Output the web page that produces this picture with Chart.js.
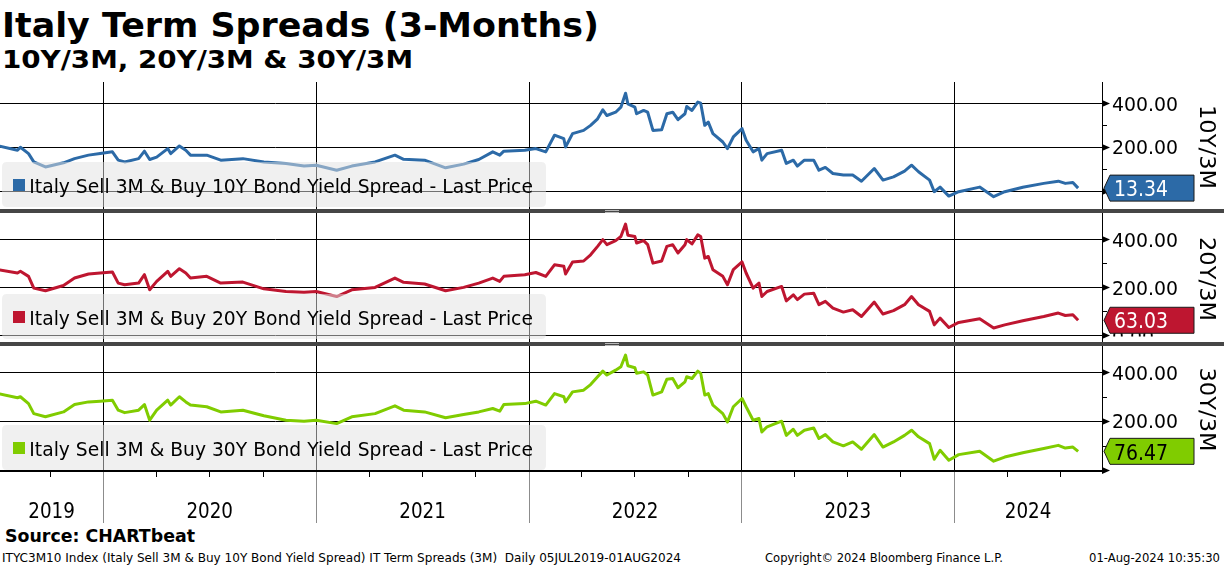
<!DOCTYPE html>
<html><head><meta charset="utf-8">
<script src="https://cdn.jsdelivr.net/npm/chart.js@4.4.1/dist/chart.umd.min.js"></script>
<style>
html,body{margin:0;padding:0;background:#fff;width:1224px;height:566px;overflow:hidden;position:relative;font-family:"DejaVu Sans",sans-serif;}
.t{position:absolute;white-space:pre;transform-origin:0 0;color:#000;line-height:normal;}
canvas{position:absolute;left:0;}
.sep{position:absolute;left:0;width:1224px;height:4px;background:#464646;}
.grip{position:absolute;left:605px;width:14px;height:1px;background:#b8b8b8;}
</style></head><body>
<div class="t" data-w="597" style="left:2px;top:5px;font-size:34px;font-weight:bold;">Italy Term Spreads (3-Months)</div>
<div class="t" data-w="411" style="left:2px;top:45px;font-size:25px;font-weight:bold;">10Y/3M, 20Y/3M &amp; 30Y/3M</div>
<canvas id="c1" width="1224" height="127" style="top:82px;width:1224px;height:127px;"></canvas>
<div class="sep" style="top:209px;"></div>
<div class="grip" style="top:210px;"></div><div class="grip" style="top:212px;"></div>
<canvas id="c2" width="1224" height="129" style="top:213px;width:1224px;height:129px;"></canvas>
<div class="sep" style="top:342px;"></div>
<div class="grip" style="top:343px;"></div><div class="grip" style="top:345px;"></div>
<canvas id="c3" width="1224" height="180" style="top:346px;width:1224px;height:180px;"></canvas>
<div class="t" data-w="190" style="left:5px;top:526px;font-size:17.5px;font-weight:bold;">Source: CHARTbeat</div>
<div class="t" data-w="679" style="left:2px;top:551px;font-size:11.5px;">ITYC3M10 Index (Italy Sell 3M &amp; Buy 10Y Bond Yield Spread) IT Term Spreads (3M)  Daily 05JUL2019-01AUG2024</div>
<div class="t" data-w="238" style="left:765px;top:551px;font-size:11.5px;">Copyright© 2024 Bloomberg Finance L.P.</div>
<div class="t" data-w="131" style="left:1089px;top:551px;font-size:11.5px;">01-Aug-2024 10:35:30</div>
<script>
// ---------- DATA ----------
const dates = [
'2019-07-05','2019-08-07','2019-08-12','2019-08-26','2019-09-04','2019-09-24','2019-10-25','2019-11-13','2019-12-07','2019-12-27',
'2020-01-17','2020-01-27','2020-02-07','2020-03-02','2020-03-12','2020-03-21','2020-04-02','2020-04-21','2020-04-26','2020-05-11',
'2020-05-22','2020-05-30','2020-06-27','2020-07-21','2020-08-28','2020-10-03','2020-11-10','2020-12-11','2021-01-01','2021-02-05',
'2021-03-03','2021-04-12','2021-05-16','2021-05-31','2021-07-06','2021-08-11','2021-09-11','2021-10-07','2021-10-31','2021-11-12',
'2021-11-19','2021-12-25','2022-01-13','2022-01-30','2022-02-14','2022-03-02','2022-03-05','2022-03-17','2022-04-05','2022-04-17',
'2022-04-29','2022-05-08','2022-05-15','2022-05-30','2022-06-08','2022-06-16','2022-06-20','2022-07-02','2022-07-05','2022-07-17',
'2022-07-24','2022-08-02','2022-08-17','2022-08-26','2022-09-05','2022-09-14','2022-09-26','2022-09-29','2022-10-08','2022-10-18',
'2022-10-23','2022-10-30','2022-11-05','2022-11-13','2022-11-30','2022-12-08','2022-12-18','2023-01-02','2023-01-09','2023-01-21',
'2023-01-31','2023-02-05','2023-02-14','2023-03-11','2023-03-19','2023-03-31','2023-04-07','2023-04-19','2023-05-05','2023-05-14',
'2023-05-25','2023-06-07','2023-06-25','2023-07-11','2023-07-26','2023-08-17','2023-09-01','2023-09-19','2023-10-08','2023-10-20',
'2023-11-01','2023-11-20','2023-11-28','2023-12-08','2023-12-23','2024-01-09','2024-02-14','2024-03-09','2024-03-28','2024-04-28',
'2024-06-03','2024-06-28','2024-07-10','2024-07-23','2024-08-01'];

const spread10Y = [
206,186,200,171,133,110,129,148,164,171,
179,141,133,148,182,144,155,194,171,206,
186,164,164,141,148,133,126,114,118,95,
114,133,164,145,141,106,123,144,179,164,
182,186,194,179,255,239,201,262,277,300,
330,371,345,360,383,447,398,383,353,368,
360,277,280,353,360,326,353,386,368,406,
401,300,315,262,224,194,247,285,232,179,
194,141,171,186,126,141,114,141,141,95,
108,80,73,73,45,103,50,65,91,118,
88,50,-3,18,-23,-3,18,-26,-3,17,
35,45,35,39,13.34];

const spread20Y = [
274,260,267,246,197,186,208,239,256,260,
264,218,211,218,253,190,225,267,246,278,
260,239,246,218,222,194,183,180,183,162,
190,200,239,221,214,186,200,218,239,225,
246,253,262,246,294,288,256,306,310,336,
371,399,378,395,412,464,417,412,385,395,
378,301,310,371,378,343,378,399,381,419,
412,322,329,274,246,211,274,306,260,197,
218,162,183,204,144,169,149,172,176,128,
142,114,97,107,79,139,89,103,128,162,
128,100,44,72,33,54,69,31,44,61,
79,93,83,86,63.03];

const spread30Y = [
313,296,300,272,231,218,238,268,279,282,
286,245,235,245,268,204,245,286,266,300,
279,266,259,238,245,222,204,200,204,190,
218,231,263,245,238,214,227,238,252,241,
268,272,282,266,313,300,279,320,327,350,
382,405,389,409,423,471,427,419,396,402,
389,307,320,372,375,337,361,382,375,405,
396,307,313,266,231,197,259,293,259,204,
211,156,177,200,142,167,142,163,172,129,
145,115,99,115,85,145,94,115,142,163,
136,108,44,81,40,63,77,36,53,71,
88,101,90,94,76.47];

const seriesNames = [
'Italy Sell 3M & Buy 10Y Bond Yield Spread - Last Price',
'Italy Sell 3M & Buy 20Y Bond Yield Spread - Last Price',
'Italy Sell 3M & Buy 30Y Bond Yield Spread - Last Price'];
const axisTitles = ['10Y/3M','20Y/3M','30Y/3M'];
const yearStarts = ['2020-01-01','2021-01-01','2022-01-01','2023-01-01','2024-01-01'];
const yearLabels = ['2019','2020','2021','2022','2023','2024'];
const majorTicks = [0,200,400];
const minorTicks = [100,300];

// ---------- CONFIG ----------
const X_MIN = Date.parse('2019-07-08');
const X_MAX = Date.parse('2024-09-11');
const FONT = "'DejaVu Sans'";

const panels = [
 {id:'c1', top:82,  padBottom:0,  yMin:-82,   yMax:498, values:spread10Y, color:'#2c6aa7', tagText:'#fff', legendTop:162,  zeroLabel:true,  bottom:false},
 {id:'c2', top:213, padBottom:0,  yMin:-27.5, yMax:510, values:spread20Y, color:'#be1630', tagText:'#fff', legendTop:294,  zeroLabel:true,  bottom:false},
 {id:'c3', top:346, padBottom:56, yMin:0,     yMax:508, values:spread30Y, color:'#80cc00', tagText:'#000', legendTop:425,  zeroLabel:false, bottom:true}
];

// quarter tick dates
const quarterTicks = [];
for (let yr = 2019; yr <= 2024; yr++) for (const m of [0,3,6,9]) {
  const t = Date.UTC(yr, m, 1);
  if (t > X_MIN && t < X_MAX) quarterTicks.push(t);
}

// text scale helpers (approximate a narrower Tahoma-like face)
const mctx = document.createElement('canvas').getContext('2d');
function measure(text, font){ mctx.font = font; return mctx.measureText(text).width; }
const tickFont = '19.5px ' + FONT, tagFont = '21px ' + FONT, yearFont = '21px ' + FONT,
      legendFont = '19px ' + FONT, titleFont = '21px ' + FONT;
const tickSx = 66 / measure('400.00', tickFont);
const tagSx = 54 / measure('63.03', tagFont);
const yearSx = 46.6 / measure('2020', yearFont);
const legendSx = 503.6 / measure(seriesNames[0], legendFont);
const titleSx = 84 / measure('10Y/3M', titleFont);

function drawScaled(ctx, text, x, y, font, sx, color, align){
  ctx.save();
  ctx.translate(x, y); ctx.scale(sx, 1);
  ctx.font = font; ctx.fillStyle = color; ctx.textAlign = align || 'left'; ctx.textBaseline = 'alphabetic';
  ctx.fillText(text, 0, 0);
  ctx.restore();
}

function roundRect(ctx, x, y, w, h, r){
  ctx.beginPath();
  ctx.moveTo(x+r, y); ctx.lineTo(x+w-r, y); ctx.quadraticCurveTo(x+w, y, x+w, y+r);
  ctx.lineTo(x+w, y+h-r); ctx.quadraticCurveTo(x+w, y+h, x+w-r, y+h);
  ctx.lineTo(x+r, y+h); ctx.quadraticCurveTo(x, y+h, x, y+h-r);
  ctx.lineTo(x, y+r); ctx.quadraticCurveTo(x, y, x+r, y);
  ctx.closePath();
}

function makePlugin(p, idx){
  return {
    id: 'panel' + idx,
    beforeDatasetsDraw(chart){
      const {ctx, chartArea:a, scales:{x, y}} = chart;
      ctx.save();
      ctx.strokeStyle = '#000'; ctx.lineWidth = 1;
      ctx.beginPath();
      majorTicks.forEach(v => {
        const py = Math.round(y.getPixelForValue(v)) + 0.5;
        if (py >= a.top && py <= a.bottom + 1) { ctx.moveTo(a.left, py); ctx.lineTo(a.right, py); }
      });
      yearStarts.forEach(d => {
        const px = Math.round(x.getPixelForValue(Date.parse(d))) + 0.5;
        ctx.moveTo(px, a.top); ctx.lineTo(px, a.bottom);
      });
      ctx.stroke();
      ctx.restore();
    },
    afterDatasetsDraw(chart){
      const {ctx, chartArea:a, scales:{x, y}} = chart;
      const W = chart.width;
      ctx.save();
      // bottom axis (before legend overlay)
      if (p.bottom) {
        ctx.fillStyle = '#000';
        ctx.fillRect(0, a.bottom, a.right + 1, 2);
        ctx.strokeStyle = '#000'; ctx.lineWidth = 1;
        ctx.beginPath();
        quarterTicks.forEach(t => {
          const px = Math.round(x.getPixelForValue(t)) + 0.5;
          ctx.moveTo(px, a.bottom); ctx.lineTo(px, a.bottom + 7);
        });
        ctx.stroke();
        ctx.strokeStyle = '#8c8c8c';
        ctx.beginPath();
        yearStarts.forEach(d => {
          const px = Math.round(x.getPixelForValue(Date.parse(d))) + 0.5;
          ctx.moveTo(px, a.bottom + 2); ctx.lineTo(px, a.bottom + 53);
        });
        ctx.stroke();
        const bounds = [X_MIN].concat(yearStarts.map(d => Date.parse(d))).concat([X_MAX]);
        yearLabels.forEach((lab, i) => {
          const cx = (x.getPixelForValue(bounds[i]) + x.getPixelForValue(bounds[i+1])) / 2;
          drawScaled(ctx, lab, cx, a.bottom + 48, yearFont, yearSx, '#000', 'center');
        });
      }
      // right axis line
      ctx.strokeStyle = '#000'; ctx.lineWidth = 1;
      ctx.beginPath();
      ctx.moveTo(a.right + 0.5, a.top); ctx.lineTo(a.right + 0.5, a.bottom + (p.bottom ? 2 : 0));
      minorTicks.forEach(v => {
        const py = Math.round(y.getPixelForValue(v)) + 0.5;
        ctx.moveTo(a.right, py); ctx.lineTo(a.right + 5, py);
      });
      ctx.stroke();
      ctx.fillStyle = '#000';
      majorTicks.forEach(v => {
        const py = Math.round(y.getPixelForValue(v)) + 0.5;
        ctx.beginPath();
        ctx.moveTo(a.right, py - 3.5); ctx.lineTo(a.right + 8, py); ctx.lineTo(a.right, py + 3.5);
        ctx.closePath(); ctx.fill();
      });
      // legend overlay box
      const lt = p.legendTop - p.top;
      roundRect(ctx, 2, lt, 544, 45, 5);
      ctx.fillStyle = 'rgba(226,226,226,0.5)';
      ctx.fill();
      ctx.fillStyle = p.color;
      ctx.fillRect(13, lt + 17, 12, 12);
      drawScaled(ctx, seriesNames[idx], 29.3, lt + 30.5, legendFont, legendSx, '#000', 'left');
      // y tick labels (clipped just below the zero line)
      const clipBottom = Math.min(a.bottom, y.getPixelForValue(0) + 1);
      ctx.save();
      ctx.beginPath(); ctx.rect(a.right + 1, a.top, W - a.right, clipBottom - a.top); ctx.clip();
      majorTicks.forEach(v => {
        if (v === 0 && !p.zeroLabel) return;
        const py = y.getPixelForValue(v);
        drawScaled(ctx, v.toFixed(2), a.right + 10, py + 7.2, tickFont, tickSx, '#000', 'left');
      });
      ctx.restore();
      // last value tag
      const last = p.values[p.values.length - 1];
      const cy = y.getPixelForValue(last);
      const tip = a.right + 2, left = a.right + 8, right = a.right + 92, h = 26;
      ctx.beginPath();
      ctx.moveTo(tip, cy); ctx.lineTo(left, cy - h/2); ctx.lineTo(right, cy - h/2);
      ctx.lineTo(right, cy + h/2); ctx.lineTo(left, cy + h/2); ctx.closePath();
      ctx.fillStyle = p.color; ctx.fill();
      ctx.strokeStyle = '#1a1a1a'; ctx.lineWidth = 1; ctx.stroke();
      drawScaled(ctx, last.toFixed(2), left + 4, cy + 8.2, tagFont, tagSx, p.tagText, 'left');
      // rotated axis title
      ctx.save();
      ctx.translate(1206, (a.top + a.bottom) / 2 + 1.5);
      ctx.rotate(Math.PI / 2);
      ctx.scale(titleSx, 1);
      ctx.font = titleFont; ctx.fillStyle = '#000'; ctx.textAlign = 'center'; ctx.textBaseline = 'middle';
      ctx.fillText(axisTitles[idx], 0, 1);
      ctx.restore();
      ctx.restore();
    }
  };
}

panels.forEach((p, idx) => {
  new Chart(document.getElementById(p.id), {
    type: 'line',
    data: { datasets: [{
      data: dates.map((d, i) => ({ x: Date.parse(d), y: p.values[i] })),
      borderColor: p.color, borderWidth: 3, pointRadius: 0, tension: 0, fill: false,
      borderJoinStyle: 'round'
    }]},
    options: {
      responsive: false, animation: false, events: [],
      layout: { padding: { left: 0, right: 122, top: 0, bottom: p.padBottom } },
      plugins: { legend: { display: false }, tooltip: { enabled: false } },
      scales: {
        x: { type: 'linear', display: false, min: X_MIN, max: X_MAX },
        y: { type: 'linear', display: false, min: p.yMin, max: p.yMax }
      }
    },
    plugins: [makePlugin(p, idx)]
  });
});

// fit HTML texts to reference widths
document.querySelectorAll('.t').forEach(el => {
  const tw = +el.dataset.w;
  const w = el.getBoundingClientRect().width;
  if (w > 0) el.style.transform = 'scaleX(' + (tw / w) + ')';
});
</script>
</body></html>
